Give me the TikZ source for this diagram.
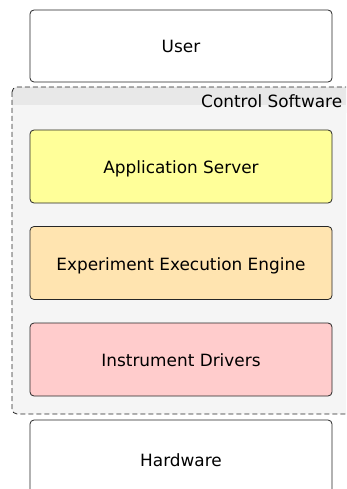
\documentclass[tikz,border=0pt]{standalone}
\usepackage{fontspec}
\setmainfont{DejaVu Sans}
\begin{document}
\begin{tikzpicture}[x=1pt,y=-1pt,
  labelfont/.style={font=\fontsize{16.9}{19}\selectfont},
  layer/.style={draw=black!85, line width=0.8pt, rounded corners=4pt, minimum width=302pt, inner sep=0pt, labelfont, text depth=0pt, text height=14pt},
  userlayer/.style={layer, fill=white, minimum height=72pt},
  swlayer/.style={layer, minimum height=73pt}]
\useasboundingbox (0,0) rectangle (346,489);
\clip (0,0) rectangle (346,489);
% control software container
\fill[black!4, rounded corners=5pt] (12,87) rectangle (360,414);
\fill[black!9, rounded corners=5pt] (12,87) rectangle (360,113);
\fill[black!4] (12,105) rectangle (360,113);
\draw[line width=0.8pt, dash pattern=on 5pt off 3pt, draw=black!85, rounded corners=5pt] (12,87) rectangle (360,414);
\node[anchor=west, labelfont, inner sep=0pt] (ctl) at (201,101) {Control Software};
% layers
\node[userlayer] (user) at (181,46) {User};
\node[swlayer, fill={rgb,255:red,255;green,255;blue,153}] (app) at (181,166.5) {Application Server};
\node[swlayer, fill={rgb,255:red,255;green,228;blue,176}] (engine) at (181,263) {Experiment Execution Engine};
\node[swlayer, fill={rgb,255:red,255;green,204;blue,204}] (drivers) at (181,359.5) {Instrument Drivers};
\node[userlayer, minimum height=80pt, text depth=2pt] (hw) at (181,460) {Hardware};
\end{tikzpicture}
\end{document}
